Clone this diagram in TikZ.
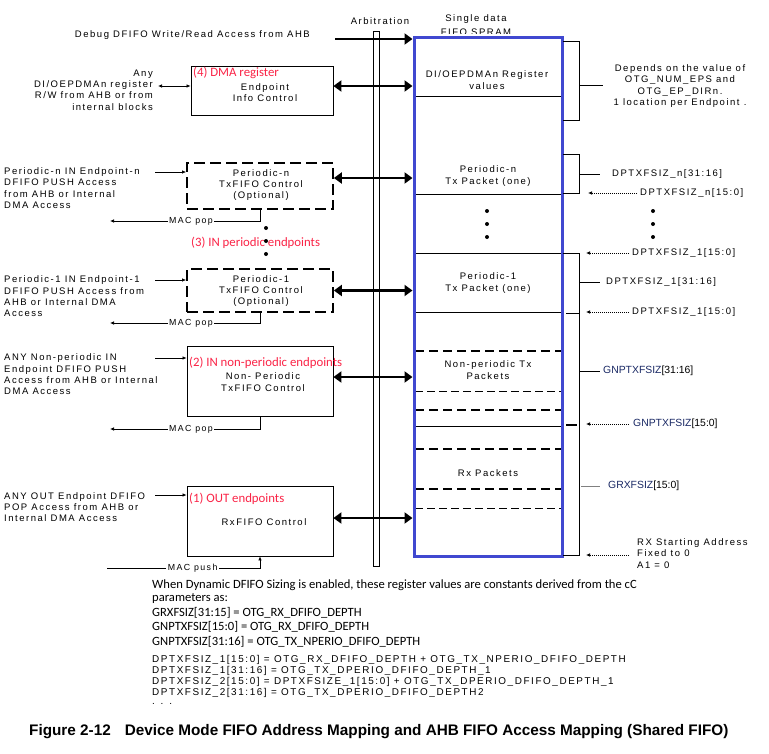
\documentclass[tikz,border=0pt]{standalone}
\usepackage{fontspec}
\setmainfont{Liberation Sans}
\newfontfamily\dgfont[LetterSpace=16]{Liberation Sans}
\newfontfamily\plfont{Liberation Sans}
\newfontfamily\cbfont{Carlito}
\usetikzlibrary{arrows.meta}
\definecolor{ramblue}{RGB}{64,72,208}
\definecolor{lblred}{RGB}{250,35,70}
\definecolor{regnavy}{RGB}{25,40,100}
\begin{document}
\begin{tikzpicture}[x=1pt,y=-1pt,
  dg/.style={font=\dgfont\fontsize{9.5}{11.3}\selectfont, inner sep=0pt},
  dgb/.style={font=\dgfont\fontsize{9.9}{11}\selectfont, inner sep=0pt, anchor=west},
  pl/.style={font=\plfont\fontsize{10.4}{12}\selectfont, inner sep=0pt},
  redlbl/.style={font=\cbfont\fontsize{12.8}{14}\selectfont, text=lblred, inner sep=0pt, anchor=west},
  cb/.style={font=\cbfont\fontsize{12.6}{14}\selectfont, inner sep=0pt, anchor=west},
  box/.style={draw, line width=0.8pt, inner sep=0pt},
  dbox/.style={draw, line width=1.7pt, dash pattern=on 11pt off 5pt, inner sep=0pt},
  bigarr/.style={line width=2.6pt, -{Triangle[length=8pt,width=11pt]}},
  bigdarr/.style={line width=2.6pt, {Triangle[length=8pt,width=11pt]}-{Triangle[length=8pt,width=11pt]}},
  smallarr/.style={line width=0.7pt, -{Latex[length=4pt,width=3.5pt]}},
  smalldarr/.style={line width=0.7pt, {Latex[length=4pt,width=3.5pt]}-{Latex[length=4pt,width=3.5pt]}},
  dotarr/.style={line width=0.7pt, dash pattern=on 0.8pt off 1.2pt, -{Latex[length=4pt,width=3.5pt]}},
  thin/.style={line width=0.7pt},
  thickdash/.style={line width=1.7pt, dash pattern=on 9pt off 5pt},
  thindash/.style={line width=0.8pt, dash pattern=on 8pt off 4pt},
  macline/.style={font=\dgfont\fontsize{8.8}{10}\selectfont, fill=white, inner sep=1.5pt}
]
\useasboundingbox (0,0) rectangle (769,753);

% arbitration bar
\node[box, line width=0.7pt, minimum width=6, minimum height=535] (arb) at (376,298.5) {};
\node[dg] (arbt) at (380,21) {Arbitration};

% SPRAM title
\node[dg] (sd) at (476,19) {Single data};
\begin{scope}
\clip (420,24) rectangle (540,33.5);
\node[dg] (fifo) at (476,32) {FIFO SPRAM};
\end{scope}

% SPRAM internal lines
\draw[thin] (415,96) -- (561,96);
\draw[thin] (415,194) -- (561,194);
\draw[thin] (415,253) -- (561,253);
\draw[thin] (415,312) -- (561,312);
\draw[thickdash] (415,351) -- (561,351);
\draw[thindash] (415,391) -- (561,391);
\draw[thickdash] (415,410) -- (561,410);
\draw[thin] (415,426) -- (561,426);
\draw[thickdash] (415,449) -- (561,449);
\draw[thickdash] (415,489) -- (561,489);
\draw[thindash] (415,508) -- (561,508);

% SPRAM box
\node[draw=ramblue, line width=3pt, minimum width=148, minimum height=519, inner sep=0pt] (ram) at (488,296.5) {};

% SPRAM texts
\node[dg, align=center] (ramdma) at (487,80) {DI/OEPDMAn Register\\values};
\node[dg, align=center] (rampn) at (488,176) {Periodic-n\\Tx Packet (one)};
\node[dg, align=center] (ramp1) at (488,283) {Periodic-1\\Tx Packet (one)};
\node[dg, align=center] (ramnp) at (488,370) {Non-periodic Tx\\Packets};
\node[dg] (ramrx) at (488,473) {Rx Packets};
\fill (487,211) circle (2) (487,224) circle (2) (487,237) circle (2);

% control boxes
\node[box, minimum width=142, minimum height=49] (dma) at (262,90.5) {};
\node[dbox, minimum width=146, minimum height=46] (pn) at (260,186) {};
\node[dbox, minimum width=146, minimum height=43] (p1) at (260,290.5) {};
\node[box, minimum width=146, minimum height=70] (np) at (260,381) {};
\node[box, minimum width=146, minimum height=70] (rx) at (260,521) {};

\node[redlbl] (dmal) at (193,73) {(4) DMA register};
\node[dg, align=center] (dmat) at (265,92.5) {Endpoint\\Info Control};
\node[dg, align=center] (pnt) at (261,185) {Periodic-n\\TxFIFO Control\\(Optional)};
\node[dg, align=center] (p1t) at (261,291) {Periodic-1\\TxFIFO Control\\(Optional)};
\node[redlbl] (npl) at (189,363) {(2) IN non-periodic endpoints};
\node[dg, align=center] (npt) at (263,382) {Non- Periodic\\TxFIFO Control};
\node[redlbl] (rxl) at (189,499) {(1) OUT endpoints};
\node[dg] (rxt) at (264,522) {RxFIFO Control};
\node[redlbl] (p3l) at (191,243) {(3) IN periodic endpoints};
\fill (266,228) circle (2) (266,241) circle (2) (266,254) circle (2);

% left texts
\node[dg, align=right, anchor=east] (dmain) at (153,90) {Any\\DI/OEPDMAn register\\R/W from AHB or from\\internal blocks};
\node[dg, align=left, anchor=west] (pnin) at (4,188) {Periodic-n IN Endpoint-n\\DFIFO PUSH Access\\from AHB or Internal\\DMA Access};
\node[dg, align=left, anchor=west] (p1in) at (4,296.5) {Periodic-1 IN Endpoint-1\\DFIFO PUSH Access from\\AHB or Internal DMA\\Access};
\node[dg, align=left, anchor=west] (npin) at (4,374.5) {ANY Non-periodic IN\\Endpoint DFIFO PUSH\\Access from AHB or Internal\\DMA Access};
\node[dg, align=left, anchor=west] (rxin) at (4,507) {ANY OUT Endpoint DFIFO\\POP Access from AHB or\\Internal DMA Access};
\node[dg, anchor=east] (dbgt) at (310,35) {Debug DFIFO Write/Read Access from AHB};

% input arrows
\coordinate (indma) at (158,86);
\coordinate (inpn) at (155,172);
\coordinate (inp1) at (155,280);
\coordinate (innp) at (155,358);
\coordinate (inrx) at (155,495);
\draw[smalldarr] (indma) -- (indma -| dma.west);
\draw[smallarr] (inpn) -- (inpn -| pn.west);
\draw[smallarr] (inp1) -- (inp1 -| p1.west);
\draw[smallarr] (innp) -- (innp -| np.west);
\draw[smallarr] (inrx) -- (inrx -| rx.west);

% MAC pop / push
\coordinate (mpn) at (110,221);
\coordinate (mp1) at (110,323);
\coordinate (mnp) at (110,429);
\coordinate (mrx) at (107,568);
\draw[smallarr] (pn.south) |- node[macline, pos=0.73] {MAC pop} (mpn);
\draw[smallarr] (p1.south) |- node[macline, pos=0.73] {MAC pop} (mp1);
\draw[smallarr] (np.south) |- node[macline, pos=0.73] {MAC pop} (mnp);
\draw[smallarr] (mrx) -| node[macline, pos=0.28] {MAC push} (rx.south);

% arbitration arrows
\coordinate (dbg) at (335,39);
\draw[bigarr] (dbg) -- (dbg -| ram.west);
\draw[bigdarr] ([yshift=4.5pt]dma.east) -- ([yshift=4.5pt]dma.east -| ram.west);
\draw[bigdarr] ([yshift=8pt]pn.east) -- ([yshift=8pt]pn.east -| ram.west);
\draw[bigdarr] (p1.east) -- (p1.east -| ram.west);
\draw[bigdarr] ([yshift=4pt]np.east) -- ([yshift=4pt]np.east -| ram.west);
\draw[bigdarr] ([yshift=3pt]rx.east) -- ([yshift=3pt]rx.east -| ram.west);

% right brackets
\draw[thin] (563,41) -- (579,41) -- (579,120) -- (563,120);
\draw[thin] (579,85) -- (603,85);
\draw[thin] (563,154) -- (579,154) -- (579,193) -- (563,193);
\draw[thin] (579,174) -- (600,174);
\draw[thin] (563,253) -- (579,253) -- (579,555) -- (563,555);
\draw[thin] (566,313) -- (579,313);
\draw[line width=1.8pt] (566,425) -- (577,425);
\draw[thin] (579,282) -- (600,282);
\draw[thin] (579,371) -- (600,371);
\draw[line width=0.7pt, gray] (581,486) -- (600,486);

% right labels
\node[dg, align=center] (dep) at (680,86) {Depends on the value of\\OTG\_NUM\_EPS and\\OTG\_EP\_DIRn.\\1 location per Endpoint .};
\node[dg, anchor=west] (rn31) at (612,174) {DPTXFSIZ\_n[31:16]};
\node[dg, anchor=west] (rn15) at (640,193) {DPTXFSIZ\_n[15:0]};
\fill (653,211) circle (2) (653,224) circle (2) (653,237) circle (2);
\node[dg, anchor=west] (r115a) at (632,253) {DPTXFSIZ\_1[15:0]};
\node[dg, anchor=west] (r131) at (606,282) {DPTXFSIZ\_1[31:16]};
\node[dg, anchor=west] (r115b) at (632,312) {DPTXFSIZ\_1[15:0]};
\node[pl, anchor=west] (gn31) at (603,371) {\textcolor{regnavy}{GNPTXFSIZ}[31:16]};
\node[pl, anchor=west] (gn15) at (633,424) {\textcolor{regnavy}{GNPTXFSIZ}[15:0]};
\node[pl, anchor=west] (grx) at (608,486) {\textcolor{regnavy}{GRXFSIZ}[15:0]};
\node[dg, align=left, anchor=west] (rxs) at (637,553.5) {RX Starting Address\\Fixed to 0\\A1 = 0};

\coordinate (trn15) at (588,193);
\coordinate (tr115a) at (586,253);
\coordinate (tr115b) at (586,312);
\coordinate (tgn15) at (586,424);
\coordinate (trxs) at (586,555);
\draw[dotarr] ([xshift=-3pt]rn15.west) -- (trn15);
\draw[dotarr] ([xshift=-3pt]r115a.west) -- (tr115a);
\draw[dotarr] ([xshift=-3pt]r115b.west) -- (tr115b);
\draw[dotarr] ([xshift=-4pt]gn15.west) -- (tgn15);
\draw[dotarr] ([xshift=-8pt]rxs.west |- trxs) -- (trxs);

% bottom notes
\node[cb] (n1) at (152,585) {When Dynamic DFIFO Sizing is enabled, these register values are constants derived from the cC};
\node[cb] (n2) at (152,599) {parameters as:};
\node[cb] (n3) at (152,613) {GRXFSIZ[31:15] = OTG\_RX\_DFIFO\_DEPTH};
\node[cb] (n4) at (152,627) {GNPTXFSIZ[15:0] = OTG\_RX\_DFIFO\_DEPTH};
\node[cb] (n5) at (152,642) {GNPTXFSIZ[31:16] = OTG\_TX\_NPERIO\_DFIFO\_DEPTH};
\node[dgb] (m1) at (152,660) {DPTXFSIZ\_1[15:0] = OTG\_RX\_DFIFO\_DEPTH + OTG\_TX\_NPERIO\_DFIFO\_DEPTH};
\node[dgb] (m2) at (152,671) {DPTXFSIZ\_1[31:16] = OTG\_TX\_DPERIO\_DFIFO\_DEPTH\_1};
\node[dgb] (m3) at (152,682) {DPTXFSIZ\_2[15:0] = DPTXFSIZE\_1[15:0] + OTG\_TX\_DPERIO\_DFIFO\_DEPTH\_1};
\node[dgb] (m4) at (152,693) {DPTXFSIZ\_2[31:16] = OTG\_TX\_DPERIO\_DFIFO\_DEPTH2};
\node[dgb] (m5) at (152,704) {. . .};

% caption
\node[font=\plfont\bfseries\fontsize{15.3}{17}\selectfont, inner sep=0pt, anchor=west] (cap) at (29,732) {Figure 2-12\hspace{14pt}Device Mode FIFO Address Mapping and AHB FIFO Access Mapping (Shared FIFO)};
\end{tikzpicture}
\end{document}
